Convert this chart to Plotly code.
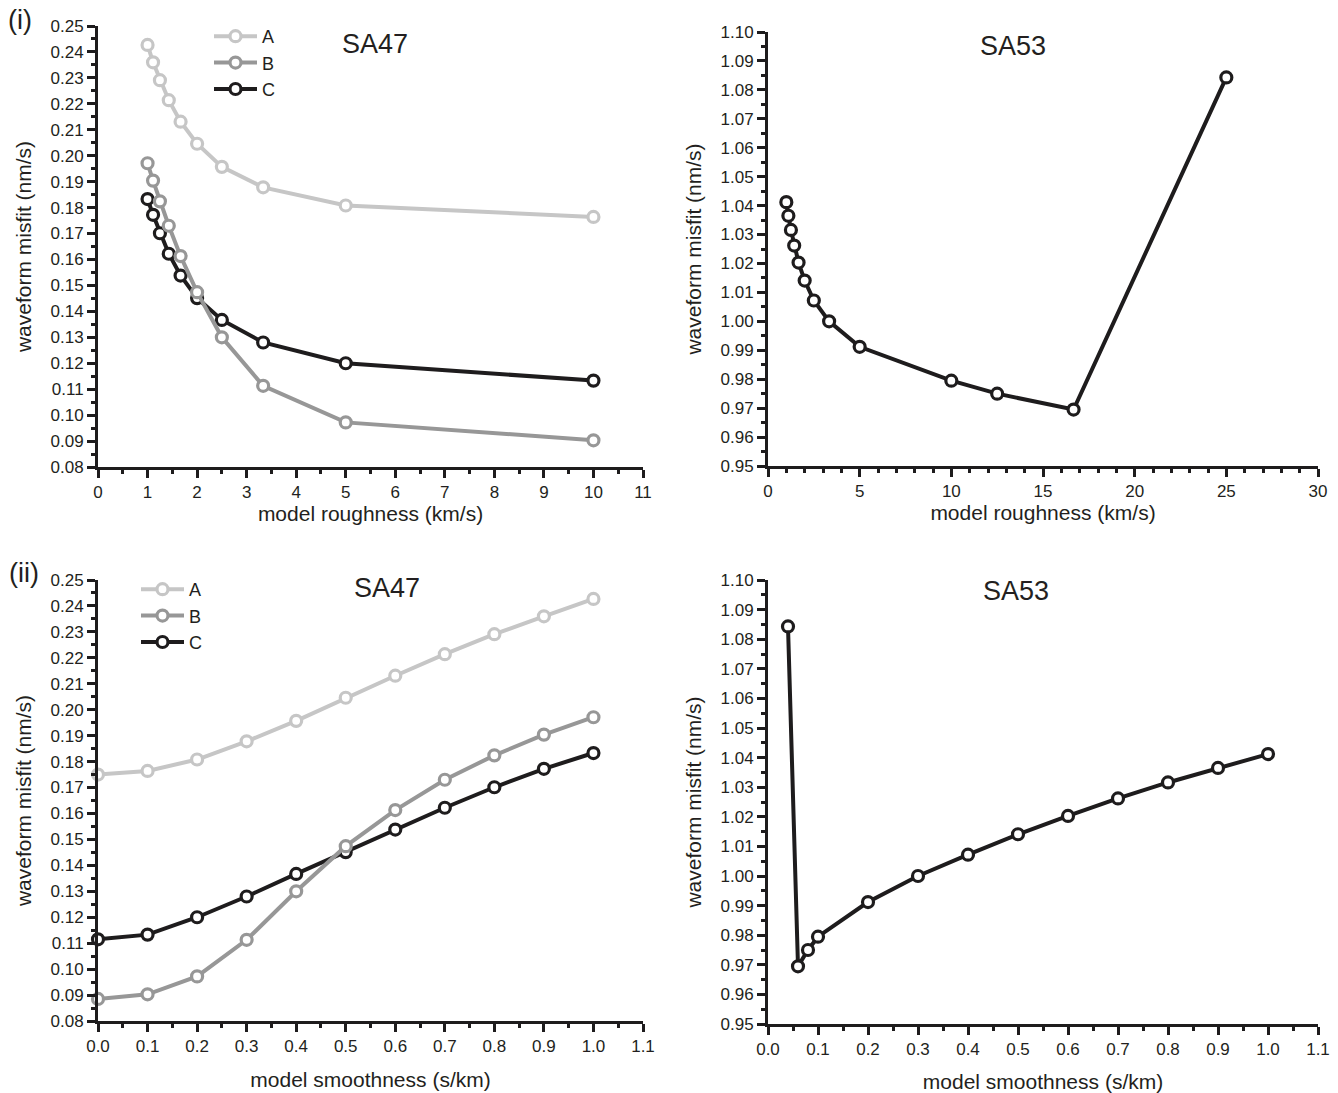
import plotly.graph_objects as go

# ---- data -------------------------------------------------------------
# SA47: waveform misfit against model smoothness (s/km) for three setups
smooth_sa47 = [0.0, 0.1, 0.2, 0.3, 0.4, 0.5, 0.6, 0.7, 0.8, 0.9, 1.0]
misfit_A = [0.1750, 0.1764, 0.1808, 0.1878, 0.1957, 0.2046, 0.2131, 0.2214, 0.2291, 0.2360, 0.2427]
misfit_B = [0.0885, 0.0903, 0.0972, 0.1113, 0.1300, 0.1474, 0.1613, 0.1730, 0.1824, 0.1904, 0.1971]
misfit_C = [0.1115, 0.1133, 0.1200, 0.1280, 0.1367, 0.1451, 0.1538, 0.1622, 0.1701, 0.1772, 0.1833]

# SA53: single setup, finer sampling at small smoothness
smooth_sa53 = [0.04, 0.06, 0.08, 0.1, 0.2, 0.3, 0.4, 0.5, 0.6, 0.7, 0.8, 0.9, 1.0]
misfit_sa53 = [1.0843, 0.9695, 0.9750, 0.9795, 0.9912, 1.0000, 1.0072, 1.0141, 1.0203,
               1.0262, 1.0316, 1.0365, 1.0412]

series_names = ["A", "B", "C"]
series_colors = {"A": "#c6c6c6", "B": "#979797", "C": "#1e1c1d"}

# roughness (km/s) is the reciprocal of smoothness; the zero-smoothness model has no finite roughness
def to_roughness(xs, ys):
    pairs = [(1.0 / x, y) for x, y in zip(xs, ys) if x > 0]
    return [p[0] for p in pairs], [p[1] for p in pairs]

# ---- layout geometry ----------------------------------------------------
W, H = 1338, 1093
FONT = "Liberation Sans, Arial, Helvetica, sans-serif"
INK = "#231f20"

def xdom(l, r):
    return [l / W, r / W]

def ydom(top, bottom):
    return [1 - bottom / H, 1 - top / H]

fig = go.Figure()

panels = {
    "tl": ("x", "y"),
    "tr": ("x2", "y2"),
    "bl": ("x3", "y3"),
    "br": ("x4", "y4"),
}

def add_series(panel, xs, ys, color, name=None, legend=None, show=False):
    xa, ya = panels[panel]
    fig.add_trace(go.Scatter(
        x=xs, y=ys, mode="lines+markers", name=name,
        xaxis=xa, yaxis=ya,
        line=dict(color=color, width=4),
        marker=dict(symbol="circle", size=11, color="white",
                    line=dict(color=color, width=3.2)),
        showlegend=show, legend=legend,
        legendrank={"A": 1, "B": 2, "C": 3}.get(name, 10),
        cliponaxis=False,
    ))

sa47 = {"A": misfit_A, "B": misfit_B, "C": misfit_C}
# draw order: A, C, then B on top
for nm in ["A", "C", "B"]:
    rx, ry = to_roughness(smooth_sa47, sa47[nm])
    add_series("tl", rx, ry, series_colors[nm], nm, "legend", True)
    add_series("bl", smooth_sa47, sa47[nm], series_colors[nm], nm, "legend2", True)

rx, ry = to_roughness(smooth_sa53, misfit_sa53)
add_series("tr", rx, ry, series_colors["C"])
add_series("br", smooth_sa53, misfit_sa53, series_colors["C"])

axis_common = dict(
    showline=True, linecolor="#1e1c1d", linewidth=2.8,
    ticks="outside", ticklen=8, tickwidth=2.5, tickcolor="#1e1c1d",
    showgrid=False, zeroline=False, mirror=False, automargin=False,
    tickfont=dict(family=FONT, size=17, color=INK),
    title_font=dict(family=FONT, size=21, color=INK),
)
minor_common = dict(ticks="outside", ticklen=4.5, tickwidth=2.5, tickcolor="#1e1c1d", showgrid=False)

legend_common = dict(xanchor="left", yanchor="top", bgcolor="rgba(0,0,0,0)",
                     font=dict(family=FONT, size=18, color=INK),
                     tracegroupgap=0, itemwidth=43)

fig.update_layout(
    width=W, height=H,
    margin=dict(l=0, r=0, t=0, b=0, autoexpand=False),
    paper_bgcolor="white", plot_bgcolor="white",
    font=dict(family=FONT, color=INK),
    xaxis=dict(domain=xdom(98, 643), anchor="y", range=[0, 11], dtick=1, tick0=0,
               minor=dict(dtick=0.5, **minor_common),
               title=dict(text="model roughness (km/s)", standoff=5), **axis_common),
    yaxis=dict(domain=ydom(26, 467), anchor="x", range=[0.08, 0.25], dtick=0.01, tick0=0.08,
               tickformat=".2f", minor=dict(dtick=0.005, **minor_common),
               title=dict(text="waveform misfit (nm/s)", standoff=14), **axis_common),
    xaxis2=dict(domain=xdom(768, 1318), anchor="y2", range=[0, 30], dtick=5, tick0=0,
                minor=dict(dtick=1, **minor_common),
                title=dict(text="model roughness (km/s)", standoff=5), **axis_common),
    yaxis2=dict(domain=ydom(32, 466), anchor="x2", range=[0.95, 1.10], dtick=0.01, tick0=0.95,
                tickformat=".2f", minor=dict(dtick=0.005, **minor_common),
                title=dict(text="waveform misfit (nm/s)", standoff=14), **axis_common),
    xaxis3=dict(domain=xdom(98, 643), anchor="y3", range=[0, 1.1], dtick=0.1, tick0=0,
                tickformat=".1f", minor=dict(dtick=0.05, **minor_common),
                title=dict(text="model smoothness (s/km)", standoff=18), **axis_common),
    yaxis3=dict(domain=ydom(580, 1021), anchor="x3", range=[0.08, 0.25], dtick=0.01, tick0=0.08,
                tickformat=".2f", minor=dict(dtick=0.005, **minor_common),
                title=dict(text="waveform misfit (nm/s)", standoff=14), **axis_common),
    xaxis4=dict(domain=xdom(768, 1318), anchor="y4", range=[0, 1.1], dtick=0.1, tick0=0,
                tickformat=".1f", minor=dict(dtick=0.05, **minor_common),
                title=dict(text="model smoothness (s/km)", standoff=18), **axis_common),
    yaxis4=dict(domain=ydom(580, 1024), anchor="x4", range=[0.95, 1.10], dtick=0.01, tick0=0.95,
                tickformat=".2f", minor=dict(dtick=0.005, **minor_common),
                title=dict(text="waveform misfit (nm/s)", standoff=14), **axis_common),
    legend=dict(x=209 / W, y=1 - 18 / H, **legend_common),
    legend2=dict(x=136 / W, y=1 - 571 / H, **legend_common),
)

annotations = [
    dict(text="SA47", x=375 / W, y=1 - 44 / H),
    dict(text="SA53", x=1013 / W, y=1 - 46 / H),
    dict(text="SA47", x=387 / W, y=1 - 588 / H),
    dict(text="SA53", x=1016 / W, y=1 - 591 / H),
]
for a in annotations:
    fig.add_annotation(xref="paper", yref="paper", showarrow=False,
                       xanchor="center", yanchor="middle",
                       font=dict(family=FONT, size=27, color=INK), **a)

for txt, x, y in [("(i)", 20, 20), ("(ii)", 24, 573)]:
    fig.add_annotation(xref="paper", yref="paper", showarrow=False, text=txt,
                       x=x / W, y=1 - y / H, xanchor="center", yanchor="middle",
                       font=dict(family=FONT, size=27, color=INK))

fig.write_html("out.html")
